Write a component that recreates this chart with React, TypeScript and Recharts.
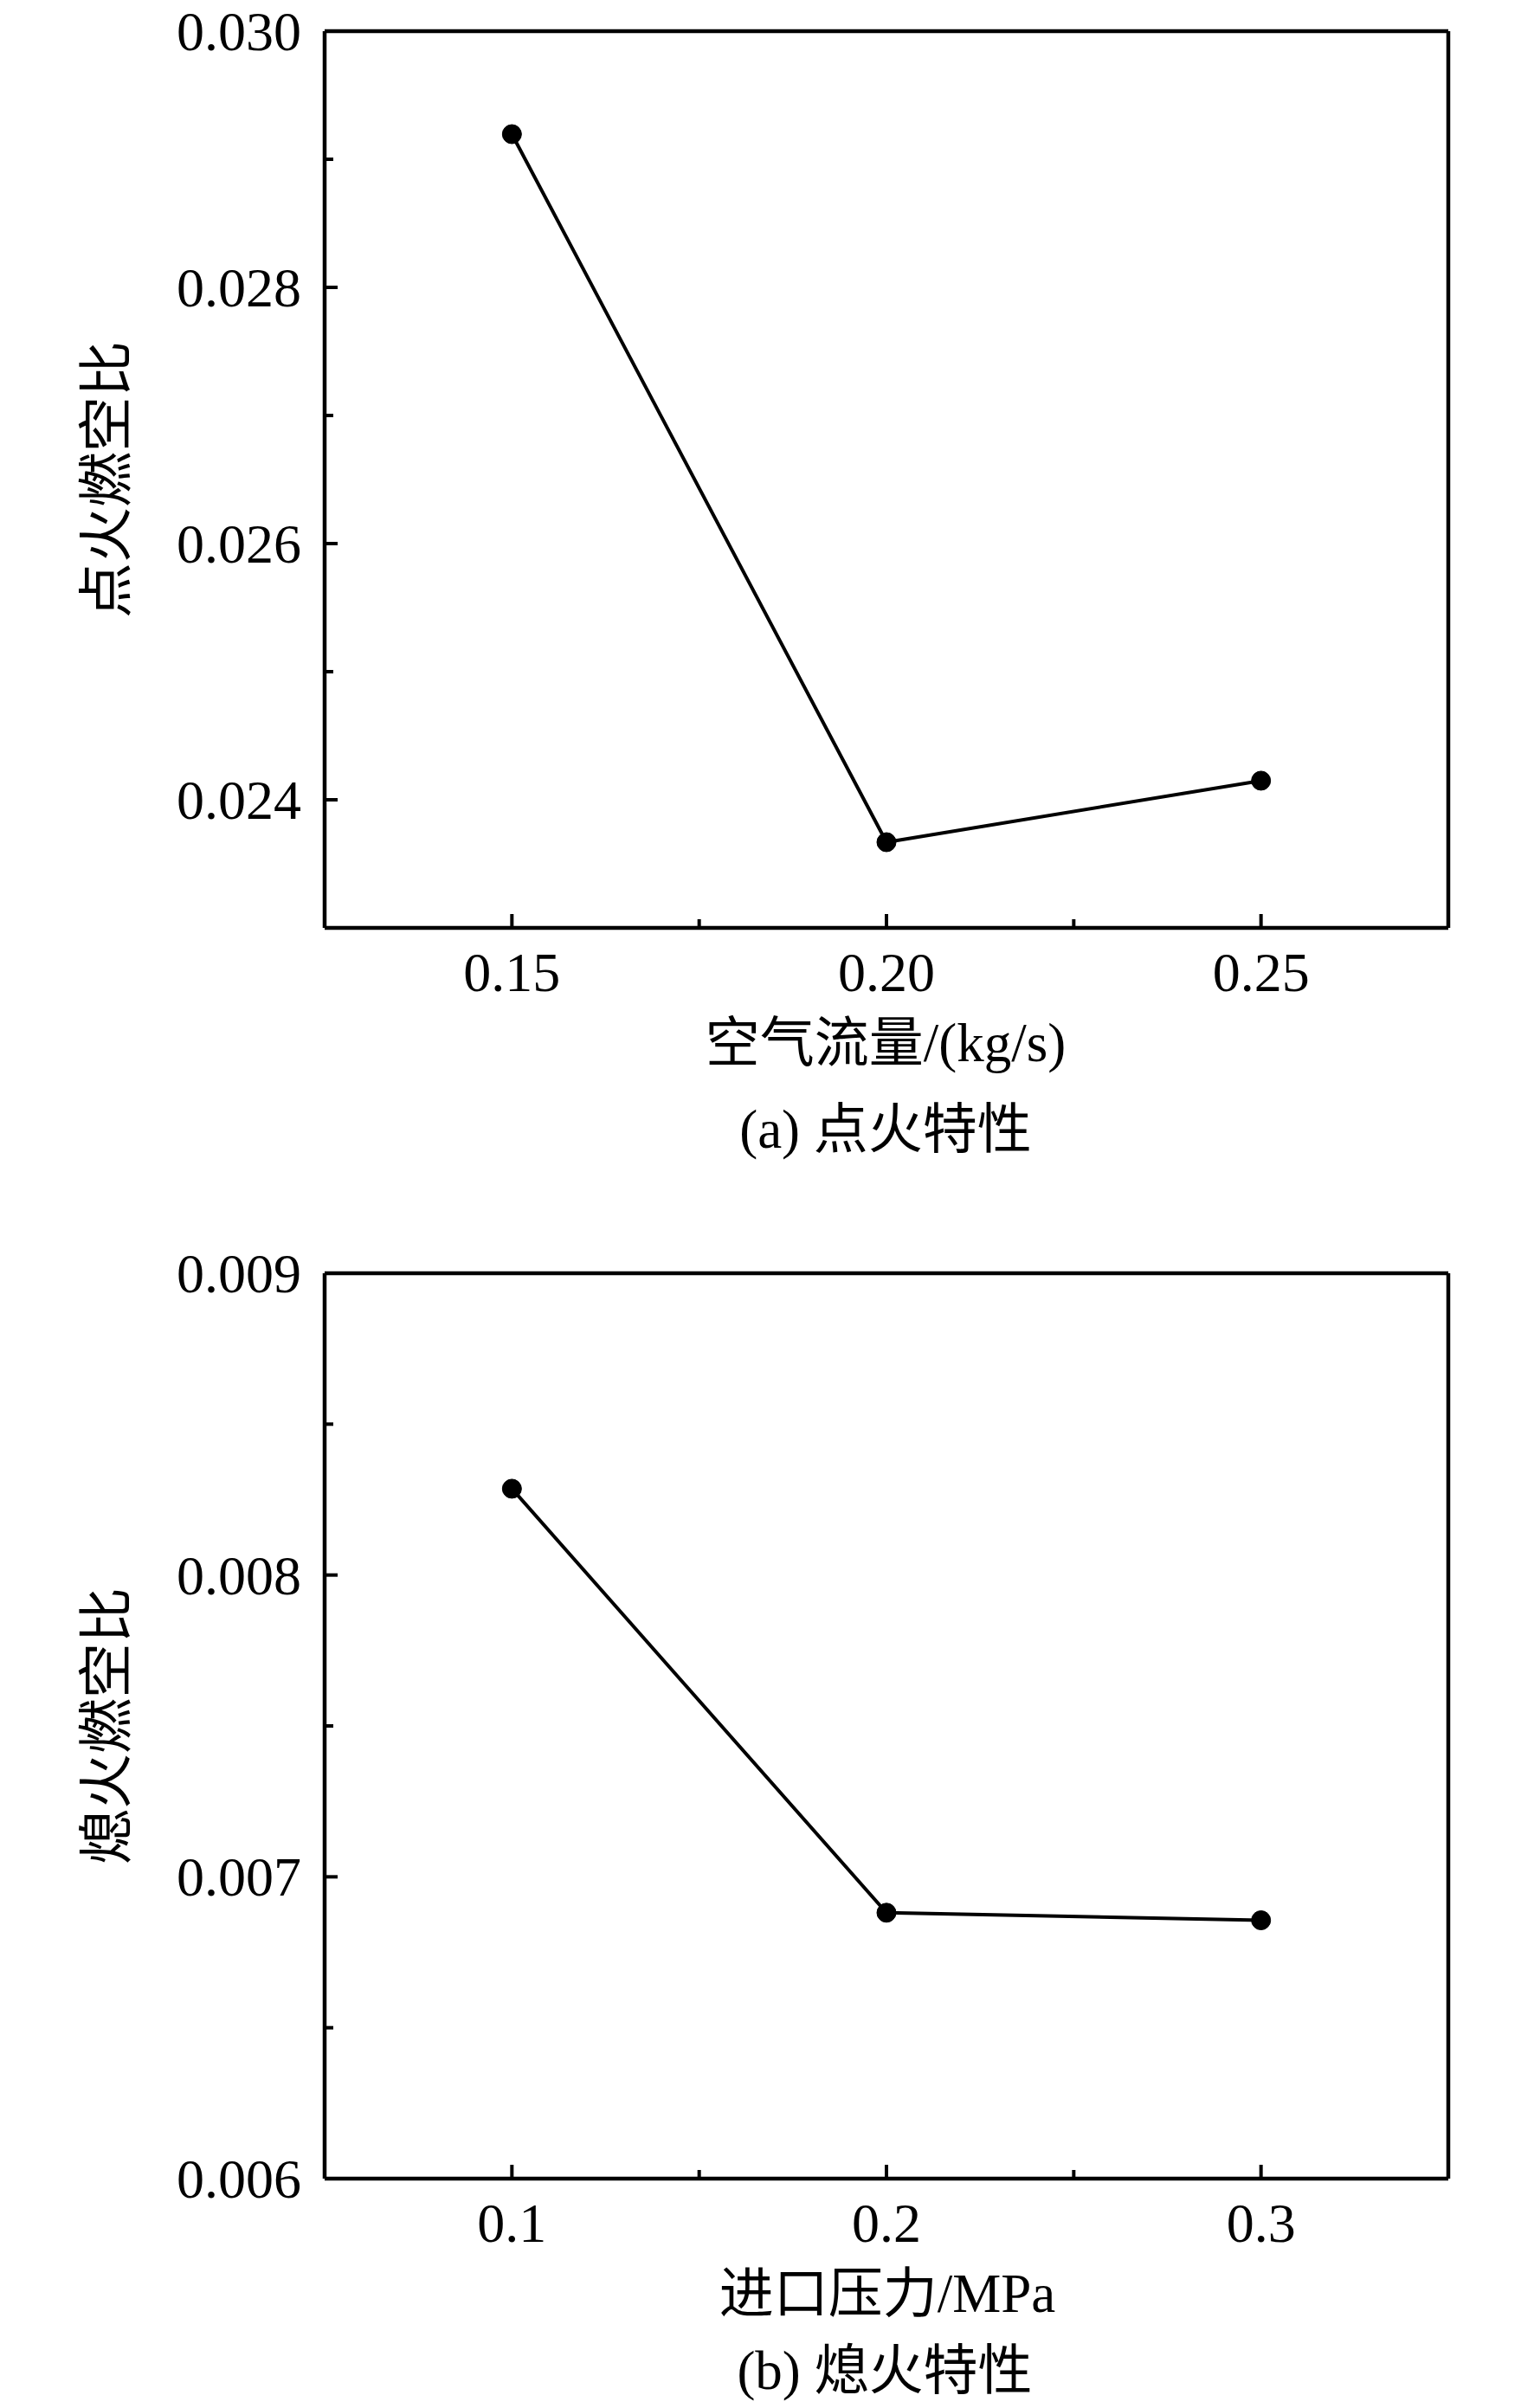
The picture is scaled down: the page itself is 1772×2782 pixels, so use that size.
import React from 'react'
import { LineChart, Line, XAxis, YAxis, ReferenceLine } from 'recharts'

// (a) ignition
const airFlow = [0.15, 0.2, 0.25]
const ignitionFar = [0.029196, 0.023669, 0.024149]
const xTicksA = [0.15, 0.175, 0.2, 0.225, 0.25]
const xMajorA = [0.15, 0.2, 0.25]
const yTicksA = [0.024, 0.025, 0.026, 0.027, 0.028, 0.029, 0.03]
const yMajorA = [0.024, 0.026, 0.028, 0.03]

// (b) blowout
const inletPressure = [0.1, 0.2, 0.3]
const blowoutFar = [0.008286, 0.006881, 0.006856]
const xTicksB = [0.1, 0.15, 0.2, 0.25, 0.3]
const xMajorB = [0.1, 0.2, 0.3]
const yTicksB = [0.006, 0.0065, 0.007, 0.0075, 0.008, 0.0085, 0.009]
const yMajorB = [0.006, 0.007, 0.008, 0.009]

const SERIF = '"Liberation Serif", "DejaVu Serif", serif'
const CJK = '"Liberation Serif", "Noto Sans CJK SC", serif'
const W = 1772

const isMajor = (v: number, majors: number[]) => majors.some((m) => Math.abs(m - v) < 1e-9)

function makeXTick(majors: number[], digits: number) {
  return function XTick(props: any) {
    const { x, y, payload } = props
    const major = isMajor(payload.value, majors)
    return (
      <g>
        <line x1={x} x2={x} y1={y} y2={y - (major ? 16 : 10)} stroke="#000" strokeWidth={4} />
        {major && (
          <text x={x} y={y + 73} textAnchor="middle" style={{ fontFamily: SERIF, fontSize: 64 }} fill="#000">
            {payload.value.toFixed(digits)}
          </text>
        )}
      </g>
    )
  }
}

function makeYTick(majors: number[]) {
  return function YTick(props: any) {
    const { x, y, payload } = props
    const major = isMajor(payload.value, majors)
    return (
      <g>
        <line x1={x} x2={x + (major ? 15 : 10)} y1={y} y2={y} stroke="#000" strokeWidth={4} />
        {major && (
          <text x={x - 27} y={y + 22} textAnchor="end" style={{ fontFamily: SERIF, fontSize: 64 }} fill="#000">
            {payload.value.toFixed(3)}
          </text>
        )}
      </g>
    )
  }
}

interface PanelProps {
  xs: number[]
  ys: number[]
  xDomain: [number, number]
  yDomain: [number, number]
  xTicks: number[]
  xMajor: number[]
  xDigits: number
  yTicks: number[]
  yMajor: number[]
  height: number
  marginTop: number
  xAxisHeight: number
}

function Panel(p: PanelProps) {
  const data = p.xs.map((x, i) => ({ x, y: p.ys[i] }))
  const XTick = makeXTick(p.xMajor, p.xDigits)
  const YTick = makeYTick(p.yMajor)
  return (
    <LineChart width={W} height={p.height} data={data} margin={{ top: p.marginTop, right: 99, bottom: 0, left: 0 }}>
      <XAxis
        dataKey="x"
        type="number"
        domain={p.xDomain}
        ticks={p.xTicks}
        interval={0}
        allowDataOverflow
        height={p.xAxisHeight}
        tickSize={0}
        tickMargin={0}
        tickLine={false}
        tick={<XTick />}
        axisLine={{ stroke: '#000', strokeWidth: 4.5 }}
      />
      <YAxis
        type="number"
        domain={p.yDomain}
        ticks={p.yTicks}
        interval={0}
        allowDataOverflow
        width={375}
        tickSize={0}
        tickMargin={0}
        tickLine={false}
        tick={<YTick />}
        axisLine={{ stroke: '#000', strokeWidth: 4.5 }}
      />
      {/* box: top and right frame */}
      <ReferenceLine y={p.yDomain[1]} stroke="#000" strokeWidth={4.5} />
      <ReferenceLine x={p.xDomain[1]} stroke="#000" strokeWidth={4.5} />
      <Line
        dataKey="y"
        type="linear"
        stroke="#000"
        strokeWidth={4}
        dot={{ r: 11, fill: '#000', stroke: '#000', strokeWidth: 1 }}
        activeDot={false}
        isAnimationActive={false}
      />
    </LineChart>
  )
}

function Caption({ text, cx, cy }: { text: string; cx: number; cy: number }) {
  return (
    <div
      style={{
        position: 'absolute',
        left: cx - 400,
        width: 800,
        top: cy - 40,
        height: 80,
        lineHeight: '80px',
        textAlign: 'center',
        fontFamily: CJK,
        fontSize: 63,
        color: '#000',
        whiteSpace: 'nowrap',
      }}
    >
      {text}
    </div>
  )
}

function YTitle({ text, cx, cy }: { text: string; cx: number; cy: number }) {
  return (
    <div
      style={{
        position: 'absolute',
        left: cx - 200,
        width: 400,
        top: cy - 40,
        height: 80,
        lineHeight: '80px',
        textAlign: 'center',
        fontFamily: CJK,
        fontSize: 64,
        color: '#000',
        whiteSpace: 'nowrap',
        transform: 'rotate(-90deg)',
      }}
    >
      {text}
    </div>
  )
}

export default function App() {
  return (
    <div style={{ position: 'absolute', left: 0, top: 0, width: W, height: 2782, background: '#fff' }}>
      <div style={{ position: 'absolute', left: 0, top: 0 }}>
        <Panel
          xs={airFlow}
          ys={ignitionFar}
          xDomain={[0.125, 0.275]}
          yDomain={[0.023, 0.03]}
          xTicks={xTicksA}
          xMajor={xMajorA}
          xDigits={2}
          yTicks={yTicksA}
          yMajor={yMajorA}
          height={1400}
          marginTop={36}
          xAxisHeight={328}
        />
      </div>
      <YTitle text="点火燃空比" cx={124} cy={554} />
      <Caption text="空气流量/(kg/s)" cx={1023} cy={1205} />
      <Caption text="(a) 点火特性" cx={1023} cy={1305} />

      <div style={{ position: 'absolute', left: 0, top: 1400 }}>
        <Panel
          xs={inletPressure}
          ys={blowoutFar}
          xDomain={[0.05, 0.35]}
          yDomain={[0.006, 0.009]}
          xTicks={xTicksB}
          xMajor={xMajorB}
          xDigits={1}
          yTicks={yTicksB}
          yMajor={yMajorB}
          height={1382}
          marginTop={71}
          xAxisHeight={265}
        />
      </div>
      <YTitle text="熄火燃空比" cx={124} cy={1994} />
      <Caption text="进口压力/MPa" cx={1025} cy={2650} />
      <Caption text="(b) 熄火特性" cx={1022} cy={2739} />
    </div>
  )
}
